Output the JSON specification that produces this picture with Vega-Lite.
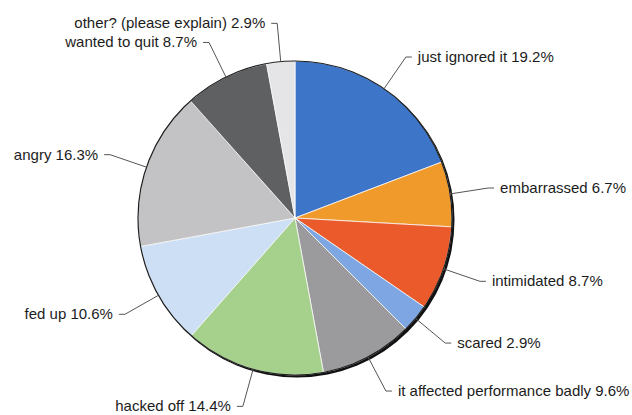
{
  "$schema": "https://vega.github.io/schema/vega-lite/v6.json",
  "width": 590,
  "height": 394,
  "autosize": {"type": "none"},
  "padding": {"left": 0, "top": 21, "right": 42, "bottom": 0},
  "background": "white",
  "config": {
    "view": {"stroke": null},
    "text": {"font": "Liberation Sans", "fontSize": 15, "color": "#1c1c1c"}
  },
  "data": {
    "values": [
      {"idx": 1, "cat": "just ignored it", "pct": 19.2},
      {"idx": 2, "cat": "embarrassed", "pct": 6.7},
      {"idx": 3, "cat": "intimidated", "pct": 8.7},
      {"idx": 4, "cat": "scared", "pct": 2.9},
      {"idx": 5, "cat": "it affected performance badly", "pct": 9.6},
      {"idx": 6, "cat": "hacked off", "pct": 14.4},
      {"idx": 7, "cat": "fed up", "pct": 10.6},
      {"idx": 8, "cat": "angry", "pct": 16.3},
      {"idx": 9, "cat": "wanted to quit", "pct": 8.7},
      {"idx": 10, "cat": "other? (please explain)", "pct": 2.9}
    ]
  },
  "transform": [
    {"window": [{"op": "sum", "field": "pct", "as": "cum"}], "sort": [{"field": "idx", "order": "ascending"}], "frame": [null, 0]},
    {"calculate": "2 * PI * (datum.cum - datum.pct / 2) / 100", "as": "mid"},
    {"calculate": "sin(datum.mid) >= 0 ? 1 : -1", "as": "side"},
    {"calculate": "sin(datum.mid)", "as": "edgeX"},
    {"calculate": "cos(datum.mid)", "as": "edgeY"},
    {"calculate": "1.245 * sin(datum.mid)", "as": "elbowX"},
    {"calculate": "1.245 * cos(datum.mid)", "as": "elbowY"},
    {"calculate": "datum.elbowX + 0.038 * datum.side", "as": "tickX"},
    {"calculate": "datum.cat + ' ' + format(datum.pct, '.1f') + '%'", "as": "labelText"}
  ],
  "encoding": {
    "x": {"type": "quantitative", "scale": {"domain": [-1.87898, 1.87898], "nice": false, "zero": false}, "axis": null},
    "y": {"type": "quantitative", "scale": {"domain": [-1.25478, 1.25478], "nice": false, "zero": false}, "axis": null}
  },
  "layer": [
    {
      "transform": [{"filter": "datum.idx == 1"}],
      "mark": {"type": "arc", "theta": 0, "theta2": 6.2832, "radius": 157.5, "fill": "#111111", "xOffset": 2, "yOffset": 2}
    },
    {
      "mark": {"type": "arc", "radius": 157, "stroke": "white", "strokeWidth": 0.8},
      "encoding": {
        "theta": {"field": "pct", "type": "quantitative", "stack": true},
        "order": {"field": "idx", "type": "quantitative"},
        "color": {
          "field": "cat",
          "type": "nominal",
          "legend": null,
          "scale": {
            "domain": ["just ignored it", "embarrassed", "intimidated", "scared", "it affected performance badly", "hacked off", "fed up", "angry", "wanted to quit", "other? (please explain)"],
            "range": ["#3d75c9", "#f09a2c", "#eb5a2a", "#7da6e2", "#9b9a9d", "#a6d18c", "#cddff5", "#c3c3c5", "#5f6062", "#e5e5e8"]
          }
        }
      }
    },
    {
      "transform": [{"filter": "datum.idx == 1"}],
      "mark": {"type": "arc", "theta": 0, "theta2": 6.2832, "radius": 157, "fillOpacity": 0, "stroke": "#1e1e1e", "strokeWidth": 1.2}
    },
    {
      "mark": {"type": "rule", "stroke": "#555555", "strokeWidth": 1},
      "encoding": {
        "x": {"field": "edgeX"},
        "y": {"field": "edgeY"},
        "x2": {"field": "elbowX"},
        "y2": {"field": "elbowY"}
      }
    },
    {
      "mark": {"type": "rule", "stroke": "#555555", "strokeWidth": 1},
      "encoding": {
        "x": {"field": "elbowX"},
        "y": {"field": "elbowY"},
        "x2": {"field": "tickX"},
        "y2": {"field": "elbowY"}
      }
    },
    {
      "transform": [{"filter": "datum.side > 0"}],
      "mark": {"type": "text", "align": "left", "baseline": "middle", "dx": 6},
      "encoding": {
        "x": {"field": "tickX"},
        "y": {"field": "elbowY"},
        "text": {"field": "labelText"}
      }
    },
    {
      "transform": [{"filter": "datum.side < 0"}],
      "mark": {"type": "text", "align": "right", "baseline": "middle", "dx": -6},
      "encoding": {
        "x": {"field": "tickX"},
        "y": {"field": "elbowY"},
        "text": {"field": "labelText"}
      }
    }
  ]
}
